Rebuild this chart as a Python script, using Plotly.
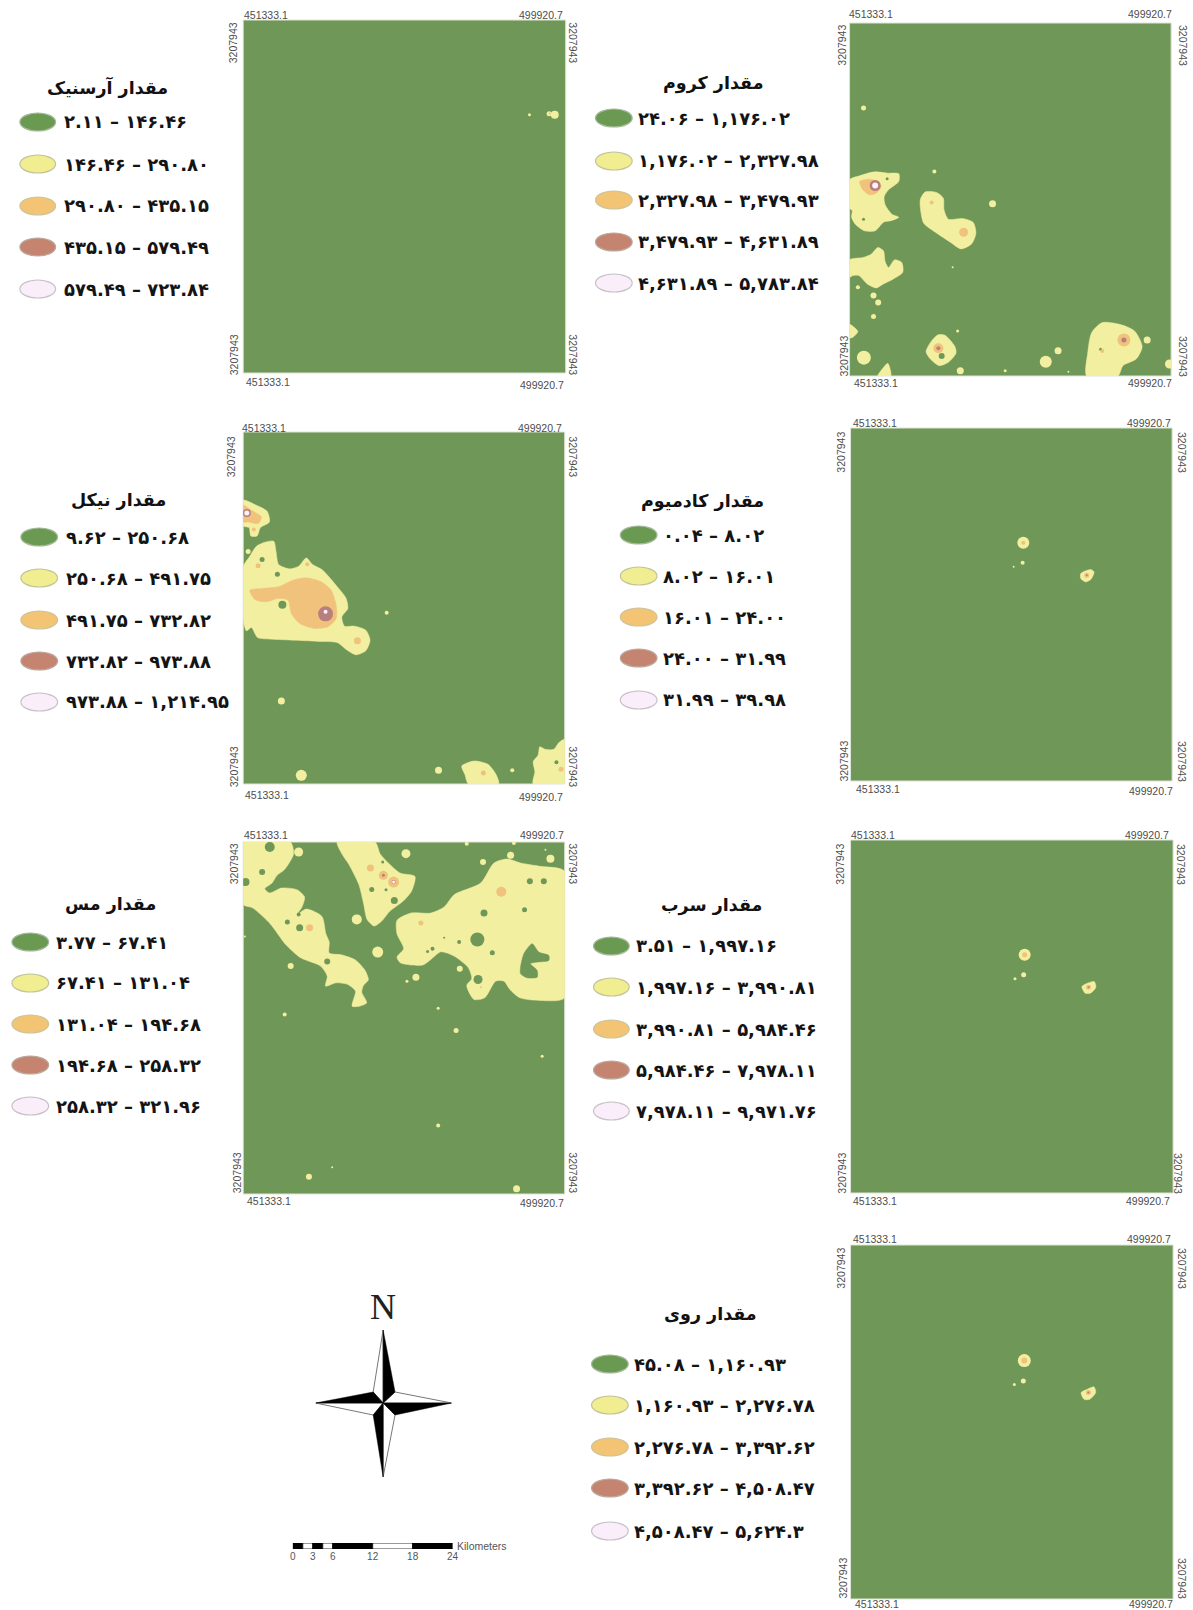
import plotly.graph_objects as go

W, H = 1193, 1610

GREEN = "#6f9858"
YELLOW = "#f3efa0"
ORANGE = "#f0c27c"
BROWN = "#b97f7f"
WHITE = "#fbf2fb"
SWATCH_FILL = ["#6a9a52", "#f0ee90", "#f2c473", "#c4846f", "#fbeefb"]
SWATCH_LINE = ["#a4b89a", "#c4c49a", "#cfc39a", "#bba79e", "#c8c2c8"]
LEGEND_FONT = "DejaVu Sans"
MAP_FONT = "Liberation Sans"

EASTING = ["451333.1", "499920.7"]
NORTHING = "3207943"

# Class breaks of each element
AS_BREAKS = ["2.11", "146.46", "290.80", "435.15", "579.49", "723.84"]
CR_BREAKS = ["24.06", "1,176.02", "2,327.98", "3,479.93", "4,631.89", "5,783.84"]
NI_BREAKS = ["9.62", "250.68", "491.75", "732.82", "973.88", "1,214.95"]
CD_BREAKS = ["0.04", "8.02", "16.01", "24.00", "31.99", "39.98"]
CU_BREAKS = ["3.77", "67.41", "131.04", "194.68", "258.32", "321.96"]
PB_BREAKS = ["3.51", "1,997.16", "3,990.81", "5,984.46", "7,978.11", "9,971.76"]
ZN_BREAKS = ["45.08", "1,160.93", "2,276.78", "3,392.62", "4,508.47", "5,624.3"]

# Zones as outlines and spots (x, y, diameter) on each map's survey grid
CR_YELLOW = [
    [(90,540),(120,528),(165,516),(205,520),(238,522),(238,545),(207,570),(194,590),(197,615),(217,643),(238,652),(217,662),(192,667),(167,693),(135,693),(108,674),(96,652),(98,632),(90,625)],
    [(318,576),(352,578),(372,595),(374,630),(387,658),(430,656),(462,668),(470,700),(457,732),(425,747),(393,727),(348,697),(313,670),(303,625),(303,598)],
    [(90,780),(130,773),(155,763),(175,743),(192,753),(197,785),(207,803),(225,780),(247,788),(250,817),(222,837),(192,852),(170,864),(143,852),(118,827),(100,827),(90,832)],
    [(803,1128),(806,1060),(818,998),(850,968),(902,973),(947,993),(970,1040),(952,1077),(912,1097),(897,1128)],
    [(355,1005),(377,1006),(407,1040),(410,1060),(387,1087),(360,1097),(333,1077),(320,1055),(333,1028)],
    [(90,973),(105,983),(115,995),(100,1012),(90,1014)],
    [(175,1128),(190,1105),(205,1090),(214,1128)],
]
CR_YELLOW_SPOTS = [(132,325,5),(345,515,4),(520,612,7),(400,802,2),(115,862,4),(162,887,6),(176,908,6),(162,950,5),(415,993,3),(423,1112,7),(558,1112,3),(680,1085,12),(717,1052,7),(748,1115,2),(985,1020,7),(1052,1092,9),(133,1073,14)]
CR_ORANGE = [[(120,545),(150,538),(175,545),(185,560),(170,580),(150,585),(130,570)]]
CR_ORANGE_SPOTS = [(433,697,9),(915,1020,13),(337,608,4),(357,1045,10),(850,1053,4)]
CR_BROWN_SPOTS = [(167,557,11),(915,1020,5),(357,1045,4)]
CR_WHITE_SPOTS = [(167,557,6)]
CR_GREEN_SPOTS = [(203,537,3),(132,658,3),(367,1068,6),(845,1048,3)]

NI_YELLOW = [
    [(65,270),(100,283),(137,303),(144,335),(117,352),(107,377),(88,377),(83,352),(65,347)],
    [(65,470),(85,438),(105,408),(130,396),(157,393),(164,425),(172,463),(205,476),(232,468),(255,443),(274,463),(302,478),(317,493),(347,528),(374,563),(380,595),(362,620),(370,648),(400,648),(434,660),(447,690),(434,722),(405,734),(378,720),(348,697),(300,694),(220,690),(150,687),(108,682),(90,652),(75,662),(65,627)],
    [(723,1068),(760,1053),(802,1063),(827,1095),(834,1122),(743,1122),(733,1095)],
    [(1033,988),(1015,998),(1000,1018),(975,1018),(958,1010),(953,1035),(938,1055),(943,1085),(938,1122),(1033,1122)],
]
NI_YELLOW_SPOTS = [(80,424,5),(497,608,4),(180,873,7),(240,1096,11),(653,1081,7),(875,1081,4)]
NI_ORANGE = [
    [(85,540),(120,535),(170,530),(215,510),(255,503),(300,515),(330,540),(345,585),(345,625),(320,650),(280,655),(235,640),(210,610),(200,570),(170,565),(135,575),(100,568)],
    [(65,285),(90,300),(120,320),(110,340),(80,335),(65,335)],
]
NI_ORANGE_SPOTS = [(110,467,5),(258,462,4),(97,358,4),(409,692,7),(788,1089,5),(1022,1078,5)]
NI_BROWN_SPOTS = [(313,611,15),(76,308,8)]
NI_WHITE_SPOTS = [(313,605,4),(76,308,5)]
NI_GREEN_SPOTS = [(122,448,5),(168,492,5),(183,584,8),(1008,1057,4)]

CU_YELLOW = [
    [(65,65),(207,65),(217,100),(202,130),(187,150),(167,165),(152,188),(130,205),(145,218),(180,203),(227,208),(250,230),(242,260),(227,283),(255,266),(302,288),(314,340),(324,365),(324,398),(360,403),(402,418),(432,450),(442,478),(427,495),(422,515),(437,547),(415,557),(393,557),(403,512),(380,492),(345,487),(313,497),(318,467),(298,437),(238,412),(193,372),(148,312),(123,287),(93,262),(65,252)],
    [(348,65),(462,65),(477,100),(502,128),(537,158),(582,168),(572,212),(547,242),(507,272),(482,302),(460,317),(438,297),(428,252),(413,192),(383,132),(363,102)],
    [(528,300),(570,278),(630,278),(670,260),(700,223),(780,188),(820,128),(860,116),(900,128),(960,138),(1033,153),(1033,532),(960,540),(898,532),(868,507),(850,482),(825,482),(792,532),(760,537),(738,495),(753,475),(743,442),(700,407),(660,394),(630,417),(605,434),(538,427),(528,410),(548,385),(528,340)],
]
CU_GREEN = [[(900,440),(910,400),(935,370),(955,395),(985,405),(985,420),(950,425),(930,430),(950,450),(950,470),(920,472),(900,460)]]
CU_YELLOW_SPOTS = [(232,95,9),(555,100,9),(787,125,6),(870,105,7),(990,115,8),(738,70,4),(880,68,4),(975,88,2),(407,297,10),(470,395,11),(208,437,6),(585,470,7),(558,482,3),(717,445,6),(190,582,4),(652,563,3),(706,630,5),(965,707,3),(652,915,4),(263,1068,6),(333,1040,2),(888,1104,7),(70,348,2)]
CU_GREEN_SPOTS = [(145,80,10),(72,185,8),(122,155,6),(198,305,5),(235,322,7),(232,282,4),(318,423,6),(452,207,5),(520,240,7),(770,357,14),(790,278,7),(928,183,6),(970,183,6),(912,268,5),(635,385,4),(620,393,3),(815,397,5),(772,477,9),(670,352,2),(715,365,4),(580,440,3),(495,208,3),(485,125,3)]
CU_ORANGE_SPOTS = [(842,214,10),(265,322,7),(600,308,5),(448,143,7),(487,165,9),(518,185,11),(780,500,2)]
CU_BROWN_SPOTS = [(487,165,3),(518,185,4)]
CU_WHITE_SPOTS = [(518,185,3)]

AS_YELLOW_SPOTS = [(1005,344,8),(988,341,5),(929,344,3)]
AS_ORANGE_SPOTS = [(990,340,2)]

CD_YELLOW = [[(785,490),(800,482),(815,478),(825,485),(815,508),(800,515),(785,505)]]
CD_YELLOW_SPOTS = [(612,398,12),(610,458,4),(583,470,2)]
CD_ORANGE_SPOTS = [(612,398,4),(803,495,5)]
CD_BROWN_SPOTS = [(803,495,2)]

PB_YELLOW = [[(788,498),(805,488),(825,483),(830,500),(815,517),(798,518)]]
PB_YELLOW_SPOTS = [(616,403,12),(613,463,5),(587,475,3)]
PB_ORANGE_SPOTS = [(616,403,5),(808,500,5)]
PB_BROWN_SPOTS = [(808,500,2)]

ZN_YELLOW = [[(786,515),(805,505),(825,498),(830,515),(812,535),(795,535)]]
ZN_YELLOW_SPOTS = [(615,419,13),(612,480,5),(585,491,3)]
ZN_ORANGE_SPOTS = [(615,419,6),(808,515,5)]
ZN_BROWN_SPOTS = [(808,515,2)]

# Compass and scale bar
COMPASS_DARK = [[(0,73),(12,11),(0,0)],[(0,-74),(-10,-12),(0,0)],[(-68,0),(-10,11),(0,0)],[(69,0),(12,-12),(0,0)]]
COMPASS_LIGHT = [[(0,73),(-10,11),(0,0)],[(0,-74),(12,-12),(0,0)],[(-68,0),(-10,-12),(0,0)],[(69,0),(12,11),(0,0)]]
SCALE_EDGES = [0, 1.5, 3, 4.5, 6, 12, 18, 24]
SCALE_TICKS = [0, 3, 6, 12, 18, 24]

PANELS = [
    dict(title="مقدار آرسنیک", breaks=AS_BREAKS, rect=(242,567,20,373), grid=(68,1038,60,1118),
         yellow_spots=AS_YELLOW_SPOTS, orange_spots=AS_ORANGE_SPOTS,
         title_at=(105,87), ell=(17,53), text_x=59, rows=[122,164,206,247,289],
         x_lab=[(264.5,15),(542,15),(267,382),(543,385)], y_lab=[(232,43),(233,355),(574,43),(574,355)]),
    dict(title="مقدار کروم", breaks=CR_BREAKS, rect=(853,1177,23,376), grid=(90,1057,70,1128),
         yellow=CR_YELLOW, yellow_spots=CR_YELLOW_SPOTS, orange=CR_ORANGE, orange_spots=CR_ORANGE_SPOTS,
         brown_spots=CR_BROWN_SPOTS, white_spots=CR_WHITE_SPOTS, green_spots=CR_GREEN_SPOTS,
         title_at=(715,83), ell=(597,634), text_x=638, rows=[118,161,200,242,283],
         x_lab=[(875,14),(1156,14),(880,383),(1156,383)], y_lab=[(845,45),(847,356),(1189,45),(1189,356)]),
    dict(title="مقدار نیکل", breaks=NI_BREAKS, rect=(242,566,432,784), grid=(65,1033,65,1122),
         yellow=NI_YELLOW, yellow_spots=NI_YELLOW_SPOTS, orange=NI_ORANGE, orange_spots=NI_ORANGE_SPOTS,
         brown_spots=NI_BROWN_SPOTS, white_spots=NI_WHITE_SPOTS, green_spots=NI_GREEN_SPOTS,
         title_at=(116,500), ell=(18,55), text_x=61, rows=[537,578,620,661,702],
         x_lab=[(263,428),(541,428),(266,795),(542,797)], y_lab=[(230,457),(233,767),(574,457),(574,767)]),
    dict(title="مقدار کادمیوم", breaks=CD_BREAKS, rect=(854,1178,428,781), grid=(92,1060,55,1110),
         yellow=CD_YELLOW, yellow_spots=CD_YELLOW_SPOTS, orange_spots=CD_ORANGE_SPOTS, brown_spots=CD_BROWN_SPOTS,
         title_at=(705,501), ell=(622,659), text_x=663, rows=[535,576,617,658,700],
         x_lab=[(879,423),(1155,423),(882,789),(1157,791)], y_lab=[(844,452),(847,761),(1188,452),(1188,761)]),
    dict(title="مقدار مس", breaks=CU_BREAKS, rect=(242,566,842,1194), grid=(65,1033,65,1120),
         yellow=CU_YELLOW, yellow_spots=CU_YELLOW_SPOTS, green=CU_GREEN, green_spots=CU_GREEN_SPOTS,
         orange_spots=CU_ORANGE_SPOTS, brown_spots=CU_BROWN_SPOTS, white_spots=CU_WHITE_SPOTS,
         title_at=(108,904), ell=(9,46), text_x=51, rows=[942,983,1024,1065,1106],
         x_lab=[(265,835),(543,835),(268,1201),(543,1203)], y_lab=[(233,864),(236,1173),(574,864),(574,1173)]),
    dict(title="مقدار سرب", breaks=PB_BREAKS, rect=(854,1179,840,1193), grid=(93,1062,60,1115),
         yellow=PB_YELLOW, yellow_spots=PB_YELLOW_SPOTS, orange_spots=PB_ORANGE_SPOTS, brown_spots=PB_BROWN_SPOTS,
         title_at=(714,905), ell=(595,631), text_x=636, rows=[946,987,1029,1070,1111],
         x_lab=[(877,835),(1153,835),(879,1201),(1154,1201)], y_lab=[(843,864),(845,1173),(1187,864),(1184,1173)]),
    dict(title="مقدار روی", breaks=ZN_BREAKS, rect=(854,1179,1245,1599), grid=(92,1063,73,1133),
         yellow=ZN_YELLOW, yellow_spots=ZN_YELLOW_SPOTS, orange_spots=ZN_ORANGE_SPOTS, brown_spots=ZN_BROWN_SPOTS,
         title_at=(713,1314), ell=(593,630), text_x=634, rows=[1364,1405,1447,1488,1531],
         x_lab=[(879,1239),(1155,1239),(881,1604),(1157,1604)], y_lab=[(844,1268),(846,1578),(1188,1268),(1188,1578)]),
]

PERSIAN = str.maketrans("0123456789", "۰۱۲۳۴۵۶۷۸۹")


def px(x):
    return x / W


def py(y):
    return 1 - y / H


fig = go.Figure()
shapes, notes = [], []


def note(x, y, text, size, family=MAP_FONT, color="#4d4d4d", angle=0, xanchor="center", bold=False):
    notes.append(dict(x=px(x), y=py(y), xref="paper", yref="paper", text=f"<b>{text}</b>" if bold else text,
                      showarrow=False, textangle=angle, xanchor=xanchor, yanchor="middle",
                      font=dict(size=size, family=family, color=color)))


for i, p in enumerate(PANELS, start=1):
    ax = "" if i == 1 else str(i)
    x0, x1, y0, y1 = p["rect"]
    g0, g1, g2, g3 = p["grid"]
    fig.update_layout({
        f"xaxis{ax}": dict(domain=[px(x0), px(x1)], range=[g0, g1], visible=False, fixedrange=True),
        f"yaxis{ax}": dict(domain=[py(y1), py(y0)], range=[g3, g2], visible=False, fixedrange=True, anchor=f"x{ax}"),
    })
    fig.layout[f"xaxis{ax}"].anchor = f"y{ax}"
    shapes.append(dict(type="rect", xref=f"x{ax} domain", yref=f"y{ax} domain", x0=0, x1=1, y0=0, y1=1,
                       fillcolor=GREEN, line=dict(color="#dfe3d6", width=1), layer="below"))

    def poly(rings, color):
        for ring in rings:
            xs = [q[0] for q in ring] + [ring[0][0]]
            ys = [q[1] for q in ring] + [ring[0][1]]
            fig.add_trace(go.Scatter(x=xs, y=ys, mode="lines", fill="toself", fillcolor=color,
                                     line=dict(color=color, width=0.5, shape="spline", smoothing=0.7),
                                     hoverinfo="skip", showlegend=False, xaxis=f"x{ax}", yaxis=f"y{ax}"))

    def spots(items, color):
        if items:
            fig.add_trace(go.Scatter(x=[q[0] for q in items], y=[q[1] for q in items], mode="markers",
                                     marker=dict(color=color, opacity=1, size=[q[2] for q in items], line=dict(width=0)),
                                     hoverinfo="skip", showlegend=False, xaxis=f"x{ax}", yaxis=f"y{ax}"))

    poly(p.get("yellow", []), YELLOW)
    spots(p.get("yellow_spots", []), YELLOW)
    poly(p.get("green", []), GREEN)
    spots(p.get("green_spots", []), GREEN)
    poly(p.get("orange", []), ORANGE)
    spots(p.get("orange_spots", []), ORANGE)
    spots(p.get("brown_spots", []), BROWN)
    spots(p.get("white_spots", []), WHITE)

    note(p["title_at"][0], p["title_at"][1], p["title"], 17.5, LEGEND_FONT, "#111111", bold=True)
    e0, e1 = p["ell"]
    for k, ry in enumerate(p["rows"]):
        shapes.append(dict(type="circle", xref="paper", yref="paper", x0=px(e0), x1=px(e1), y0=py(ry + 9), y1=py(ry - 9),
                           fillcolor=SWATCH_FILL[k], line=dict(color=SWATCH_LINE[k], width=1.2)))
        label = f"{p['breaks'][k]} – {p['breaks'][k + 1]}".translate(PERSIAN)
        note(p["text_x"], ry, label, 18, LEGEND_FONT, "#141414", xanchor="left", bold=True)
    for (lx, ly), t in zip(p["x_lab"], [EASTING[0], EASTING[1], EASTING[0], EASTING[1]]):
        note(lx, ly, t, 10.5)
    for j, (lx, ly) in enumerate(p["y_lab"]):
        note(lx, ly, NORTHING, 10.5, angle=-90 if j < 2 else 90)

# Compass
fig.update_layout(
    xaxis8=dict(domain=[px(315), px(452)], range=[-68, 69], visible=False, anchor="y8", fixedrange=True),
    yaxis8=dict(domain=[py(1477), py(1330)], range=[-74, 73], visible=False, anchor="x8", fixedrange=True),
    xaxis9=dict(domain=[px(292), px(453)], range=[0, 24], anchor="y9", fixedrange=True, showgrid=False, zeroline=False,
                tickmode="array", tickvals=SCALE_TICKS, ticktext=[str(v) for v in SCALE_TICKS], ticks="", showline=False,
                tickfont=dict(size=10, family=MAP_FONT, color="#555555")),
    yaxis9=dict(domain=[py(1549), py(1543)], range=[0, 1], visible=False, anchor="x9", fixedrange=True),
)
for ring in COMPASS_LIGHT:
    fig.add_trace(go.Scatter(x=[q[0] for q in ring] + [ring[0][0]], y=[q[1] for q in ring] + [ring[0][1]],
                             mode="lines", fill="toself", fillcolor="#ffffff", line=dict(color="#777777", width=1),
                             hoverinfo="skip", showlegend=False, xaxis="x8", yaxis="y8"))
for ring in COMPASS_DARK:
    fig.add_trace(go.Scatter(x=[q[0] for q in ring] + [ring[0][0]], y=[q[1] for q in ring] + [ring[0][1]],
                             mode="lines", fill="toself", fillcolor="#000000", line=dict(color="#000000", width=0.5),
                             hoverinfo="skip", showlegend=False, xaxis="x8", yaxis="y8"))
note(383, 1307, "N", 36, "Liberation Serif", "#222222")

# Scale bar
widths = [b - a for a, b in zip(SCALE_EDGES[:-1], SCALE_EDGES[1:])]
fig.add_trace(go.Bar(y=[0.5] * len(widths), x=widths, base=SCALE_EDGES[:-1], orientation="h", width=1,
                     marker=dict(color=["#000000", "#ffffff"] * 3 + ["#000000"], line=dict(color="#000000", width=0.8)),
                     hoverinfo="skip", showlegend=False, xaxis="x9", yaxis="y9"))
note(455, 1546, "Kilometers", 10.5, color="#555555", xanchor="left")

fig.update_layout(width=W, height=H, margin=dict(l=0, r=0, t=0, b=0), autosize=False,
                  paper_bgcolor="#ffffff", plot_bgcolor="rgba(0,0,0,0)",
                  shapes=shapes, annotations=notes, barmode="overlay", showlegend=False)

fig.write_html("out.html", config=dict(displayModeBar=False),
               post_script="document.body.style.margin='0';document.body.style.overflow='hidden';")
